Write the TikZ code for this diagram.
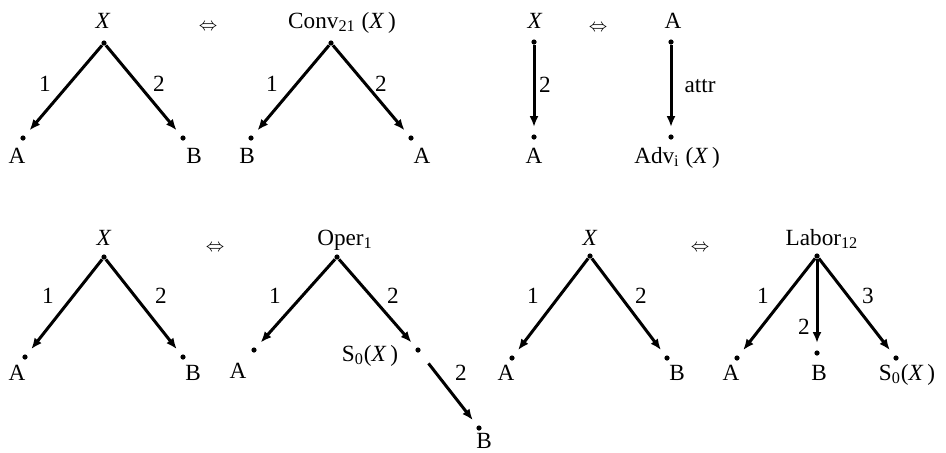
\documentclass[tikz,border=0pt]{standalone}
\usepackage{fontspec}
\setmainfont{Liberation Serif}
\usetikzlibrary{arrows.meta}
\begin{document}
\begin{tikzpicture}[x=0.5pt,y=-0.5pt,
  dot/.style={circle,fill=black,inner sep=0pt,minimum size=2.6pt},
  txt/.style={anchor=base,inner sep=0pt,font=\fontsize{11.6}{13}\selectfont},
  elbl/.style={anchor=center,inner sep=0pt,font=\fontsize{11.6}{13}\selectfont},
  eqv/.style={anchor=center,inner sep=0pt,font=\fontsize{9}{10}\selectfont},
  arr/.style={line width=1.5pt,-{Latex[length=5.5pt,width=4.5pt]},shorten >=3.5pt}
]
\useasboundingbox (0,0) rectangle (946,452);

% ---------- top left: X tree ----------
\node[dot] (t1) at (104,43) {};
\node[dot] (t1a) at (23,138) {};
\node[dot] (t1b) at (183,138) {};
\node[txt] (t1l) at (103,28) {\textit{X}};
\node[txt] (t1al) at (17,163) {A};
\node[txt] (t1bl) at (194,163) {B};
\draw[arr] (t1) -- (t1a);
\draw[arr] (t1) -- (t1b);
\node[elbl] (t1e1) at (45,84) {1};
\node[elbl] (t1e2) at (159,84) {2};

\node[eqv] (eq1) at (208,27) {$\Leftrightarrow$};

% ---------- top: Conv tree ----------
\node[dot] (t2) at (331,43) {};
\node[dot] (t2b) at (251,138) {};
\node[dot] (t2a) at (411,138) {};
\node[txt] (t2l) at (342,28) {Conv\textsubscript{21} (\textit{X}\,)};
\node[txt] (t2bl) at (247,163) {B};
\node[txt] (t2al) at (422,163) {A};
\draw[arr] (t2) -- (t2b);
\draw[arr] (t2) -- (t2a);
\node[elbl] (t2e1) at (272,84) {1};
\node[elbl] (t2e2) at (381,84) {2};

% ---------- top right: X -> A ----------
\node[dot] (t3) at (534,42) {};
\node[dot] (t3a) at (534,137) {};
\node[txt] (t3l) at (535,28) {\textit{X}};
\node[txt] (t3al) at (534,163) {A};
\draw[arr] (t3) -- (t3a);
\node[elbl] (t3e) at (545,85) {2};

\node[eqv] (eq2) at (598,28) {$\Leftrightarrow$};

\node[dot] (t4) at (671,42) {};
\node[dot] (t4a) at (671,137) {};
\node[txt] (t4l) at (673,28) {A};
\node[txt] (t4al) at (677,163) {Adv\textsubscript{i} (\textit{X}\,)};
\draw[arr] (t4) -- (t4a);
\node[elbl] (t4e) at (700,86) {attr};

% ---------- bottom left: X tree ----------
\node[dot] (b1) at (104,257) {};
\node[dot] (b1a) at (25,357) {};
\node[dot] (b1b) at (183,357) {};
\node[txt] (b1l) at (104,245) {\textit{X}};
\node[txt] (b1al) at (17,380) {A};
\node[txt] (b1bl) at (193,380) {B};
\draw[arr] (b1) -- (b1a);
\draw[arr] (b1) -- (b1b);
\node[elbl] (b1e1) at (48,296) {1};
\node[elbl] (b1e2) at (161,296) {2};

\node[eqv] (eq3) at (215,248) {$\Leftrightarrow$};

% ---------- bottom: Oper tree ----------
\node[dot] (b2) at (337,257) {};
\node[dot] (b2a) at (254,350) {};
\node[dot] (b2s) at (418,350) {};
\node[dot] (b2b) at (479,428) {};
\node[txt] (b2l) at (345,245) {Oper\textsubscript{1}};
\node[txt] (b2al) at (238,378) {A};
\node[txt] (b2sl) at (370,361) {S\textsubscript{0}(\textit{X}\,)};
\node[txt] (b2bl) at (484,448) {B};
\draw[arr] (b2) -- (b2a);
\draw[arr] (b2) -- (b2s);
\draw[arr,shorten <=7pt] (b2s) -- (b2b);
\node[elbl] (b2e1) at (275,296) {1};
\node[elbl] (b2e2) at (393,296) {2};
\node[elbl] (b2e3) at (461,373) {2};

% ---------- bottom right: X tree ----------
\node[dot] (b3) at (590,256) {};
\node[dot] (b3a) at (512,358) {};
\node[dot] (b3b) at (667,358) {};
\node[txt] (b3l) at (590,245) {\textit{X}};
\node[txt] (b3al) at (506,380) {A};
\node[txt] (b3bl) at (677,380) {B};
\draw[arr] (b3) -- (b3a);
\draw[arr] (b3) -- (b3b);
\node[elbl] (b3e1) at (533,296) {1};
\node[elbl] (b3e2) at (641,296) {2};

\node[eqv] (eq4) at (700,248) {$\Leftrightarrow$};

% ---------- bottom: Labor tree ----------
\node[dot] (b4) at (817,256) {};
\node[dot] (b4a) at (737,358) {};
\node[dot] (b4b) at (817,353) {};
\node[dot] (b4s) at (896,358) {};
\node[txt] (b4l) at (822,245) {Labor\textsubscript{12}};
\node[txt] (b4al) at (731,380) {A};
\node[txt] (b4bl) at (819,380) {B};
\node[txt] (b4sl) at (907,380) {S\textsubscript{0}(\textit{X}\,)};
\draw[arr] (b4) -- (b4a);
\draw[arr] (b4) -- (b4b);
\draw[arr] (b4) -- (b4s);
\node[elbl] (b4e1) at (763,296) {1};
\node[elbl] (b4e2) at (804,327) {2};
\node[elbl] (b4e3) at (868,296) {3};
\end{tikzpicture}
\end{document}
